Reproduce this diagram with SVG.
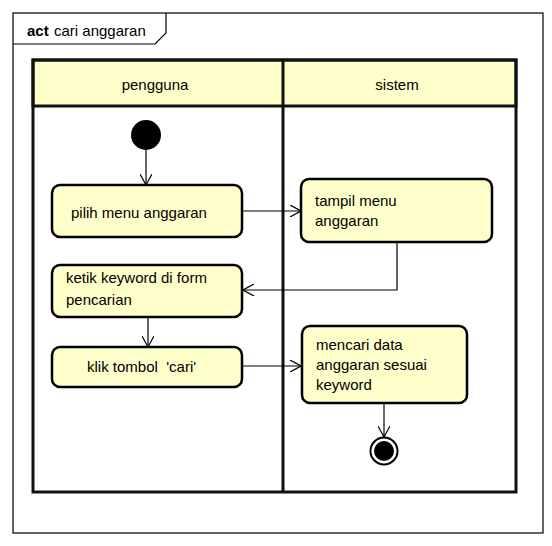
<svg xmlns="http://www.w3.org/2000/svg" width="552" height="546" viewBox="0 0 552 546">
<defs>
<style>
text{font-family:"Liberation Sans",Arial,sans-serif;font-size:15px;fill:#000}
.box{fill:#ffffcc;stroke:#000;stroke-width:2.5}
.lane{fill:none;stroke:#111;stroke-width:3}
.hdr{fill:#ffffcc;stroke:#111;stroke-width:3}
.edge{fill:none;stroke:#000;stroke-width:1.2}
</style>
<marker id="arr" viewBox="0 0 12 12" refX="11" refY="6" markerWidth="12" markerHeight="12" markerUnits="userSpaceOnUse" orient="auto">
<path d="M0,0 L11,6 L0,12" fill="none" stroke="#000" stroke-width="1.2"/>
</marker>
</defs>
<rect width="552" height="546" fill="#fff"/>
<g id="frame">
<rect x="13" y="13" width="530" height="520" fill="none" stroke="#000" stroke-width="1.2"/>
<path d="M13,44 L155,44 L166,33 L166,13" fill="none" stroke="#000" stroke-width="1.2"/>
<text x="27" y="36"><tspan font-weight="bold">act</tspan><tspan x="54">cari anggaran</tspan></text>
</g>
<g id="lanes">
<rect class="hdr" x="33" y="60" width="483" height="46"/>
<rect class="lane" x="33" y="60" width="483" height="432"/>
<line x1="283" y1="60" x2="283" y2="492" stroke="#111" stroke-width="3"/>
<text x="155" y="90" text-anchor="middle">pengguna</text>
<text x="397" y="90" text-anchor="middle">sistem</text>
</g>
<g id="connectors">
<line class="edge" x1="146" y1="149" x2="146" y2="185" marker-end="url(#arr)"/>
<line class="edge" x1="242" y1="211" x2="301" y2="211" marker-end="url(#arr)"/>
<polyline class="edge" points="397,242 397,290 243,290" marker-end="url(#arr)"/>
<line class="edge" x1="148" y1="317" x2="148" y2="347" marker-end="url(#arr)"/>
<line class="edge" x1="242" y1="366" x2="301" y2="366" marker-end="url(#arr)"/>
<line class="edge" x1="384" y1="403" x2="384" y2="437" marker-end="url(#arr)"/>
</g>
<g id="start">
<circle cx="146" cy="135" r="15" fill="#000"/>
</g>
<g id="pilih">
<rect class="box" x="52" y="185" width="190" height="52" rx="8"/>
<text x="71" y="218">pilih menu anggaran</text>
</g>
<g id="tampil">
<rect class="box" x="301" y="179" width="191" height="63" rx="8"/>
<text x="315" y="206">tampil menu</text>
<text x="315" y="226">anggaran</text>
</g>
<g id="ketik">
<rect class="box" x="52" y="265" width="190" height="52" rx="8"/>
<text x="66" y="283">ketik keyword di form</text>
<text x="66" y="305">pencarian</text>
</g>
<g id="klik">
<rect class="box" x="52" y="347" width="190" height="40" rx="8"/>
<text x="87" y="372" xml:space="preserve">klik tombol  'cari'</text>
</g>
<g id="mencari">
<rect class="box" x="302" y="326" width="165" height="77" rx="8"/>
<text x="316" y="350">mencari data</text>
<text x="316" y="370">anggaran sesuai</text>
<text x="316" y="390">keyword</text>
</g>
<g id="end">
<circle cx="384" cy="451" r="13.5" fill="#fff" stroke="#000" stroke-width="2"/>
<circle cx="384" cy="451" r="10" fill="#000"/>
</g>
</svg>
